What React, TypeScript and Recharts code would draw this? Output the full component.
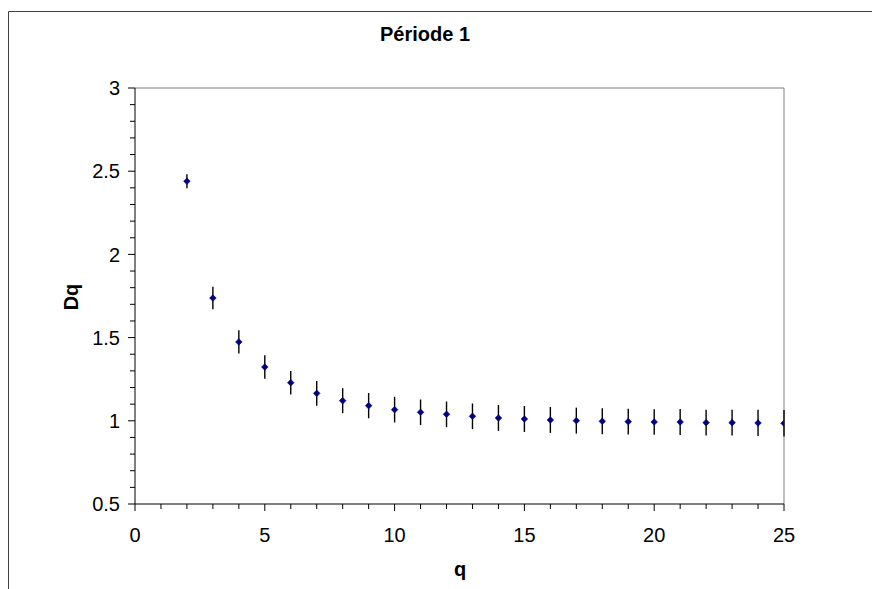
import React from 'react';
import { ComposedChart, Scatter, XAxis, YAxis, ErrorBar, ReferenceLine } from 'recharts';

const qValues = [2, 3, 4, 5, 6, 7, 8, 9, 10, 11, 12, 13, 14, 15, 16, 17, 18, 19, 20, 21, 22, 23, 24, 25];
const dqValues = [2.44, 1.738, 1.474, 1.323, 1.229, 1.165, 1.121, 1.091, 1.067, 1.051, 1.039, 1.027, 1.017, 1.011, 1.005, 1.001, 0.997, 0.995, 0.993, 0.993, 0.989, 0.989, 0.987, 0.985];
const dqErrors = [0.042, 0.068, 0.07, 0.071, 0.071, 0.074, 0.075, 0.076, 0.077, 0.077, 0.077, 0.077, 0.078, 0.078, 0.078, 0.078, 0.078, 0.078, 0.077, 0.078, 0.078, 0.078, 0.079, 0.08];

const xTicks = [0, 1, 2, 3, 4, 5, 6, 7, 8, 9, 10, 11, 12, 13, 14, 15, 16, 17, 18, 19, 20, 21, 22, 23, 24, 25];
const xLabelTicks = [0, 5, 10, 15, 20, 25];
const yTicks = [0.5, 0.6, 0.7, 0.8, 0.9, 1, 1.1, 1.2, 1.3, 1.4, 1.5, 1.6, 1.7, 1.8, 1.9, 2, 2.1, 2.2, 2.3, 2.4, 2.5, 2.6, 2.7, 2.8, 2.9, 3];
const yLabelTicks = [0.5, 1, 1.5, 2, 2.5, 3];

const titleText = 'Période 1';
const xAxisTitle = 'q';
const yAxisTitle = 'Dq';

const data = qValues.map((q, i) => ({ q, dq: dqValues[i], err: dqErrors[i] }));

const FONT = '"Liberation Sans", Arial, sans-serif';
const TICK_FS = 20;
const TITLE_FS = 20;

const isIn = (arr: number[], v: number) => arr.some((a) => Math.abs(a - v) < 1e-6);

const XTick = (props: any) => {
  const { x, y, payload } = props;
  const major = isIn(xLabelTicks, payload.value);
  return (
    <g>
      <line x1={x} x2={x} y1={y} y2={y + (major ? 7 : 5)} stroke="#000" strokeWidth={1} />
      {major && (
        <text x={x} y={y + 38} textAnchor="middle" fontSize={TICK_FS} fontFamily={FONT} fill="#000">
          {String(payload.value)}
        </text>
      )}
    </g>
  );
};

const YTick = (props: any) => {
  const { x, y, payload } = props;
  const major = isIn(yLabelTicks, payload.value);
  return (
    <g>
      <line x1={x - (major ? 7 : 5)} x2={x} y1={y} y2={y} stroke="#000" strokeWidth={1} />
      {major && (
        <text x={x - 15} y={y + 7.2} textAnchor="end" fontSize={TICK_FS} fontFamily={FONT} fill="#000">
          {String(payload.value)}
        </text>
      )}
    </g>
  );
};

const Diamond = (props: any) => {
  const { cx, cy } = props;
  const r = 3.3;
  return (
    <path
      d={`M${cx},${cy - r}L${cx + r},${cy}L${cx},${cy + r}L${cx - r},${cy}Z`}
      fill="#000080"
      stroke="#000080"
      strokeWidth={0.6}
    />
  );
};

export default function App() {
  return (
    <div
      style={{
        position: 'fixed',
        left: 0,
        top: 0,
        width: 872,
        height: 589,
        overflow: 'hidden',
        background: '#fff',
      }}
    >
      <ComposedChart width={872} height={589} data={data} margin={{ top: 88, right: 88, bottom: 0, left: 0 }}>
        <line x1={8.5} y1={11.5} x2={872} y2={11.5} stroke="#404040" strokeWidth={1} />
        <line x1={8.5} y1={11.5} x2={8.5} y2={589} stroke="#404040" strokeWidth={1} />
        <XAxis
          dataKey="q"
          type="number"
          domain={[0, 25]}
          ticks={xTicks}
          interval={0}
          tickSize={0}
          tickMargin={0}
          tickLine={false}
          axisLine={{ stroke: '#000', strokeWidth: 1 }}
          tick={<XTick />}
          height={85}
          allowDataOverflow
        />
        <YAxis
          dataKey="dq"
          type="number"
          domain={[0.5, 3]}
          ticks={yTicks}
          interval={0}
          tickSize={0}
          tickMargin={0}
          tickLine={false}
          axisLine={{ stroke: '#000', strokeWidth: 1 }}
          tick={<YTick />}
          width={135}
          allowDataOverflow
        />
        <ReferenceLine y={3} stroke="#808080" strokeWidth={1} ifOverflow="extendDomain" />
        <ReferenceLine x={25} stroke="#808080" strokeWidth={1} ifOverflow="extendDomain" />
        <Scatter dataKey="dq" shape={<Diamond />} isAnimationActive={false}>
          <ErrorBar dataKey="err" direction="y" width={0} stroke="#000" strokeWidth={1.4} isAnimationActive={false} />
        </Scatter>
        <text x={425} y={41} textAnchor="middle" fontSize={TITLE_FS} fontWeight="bold" fontFamily={FONT} fill="#000">
          {titleText}
        </text>
        <text
          x={71}
          y={297}
          textAnchor="middle"
          dominantBaseline="central"
          transform="rotate(-90 71 297)"
          fontSize={TITLE_FS}
          fontWeight="bold"
          fontFamily={FONT}
          fill="#000"
        >
          {yAxisTitle}
        </text>
        <text x={460} y={576} textAnchor="middle" fontSize={TITLE_FS} fontWeight="bold" fontFamily={FONT} fill="#000">
          {xAxisTitle}
        </text>
      </ComposedChart>
    </div>
  );
}
